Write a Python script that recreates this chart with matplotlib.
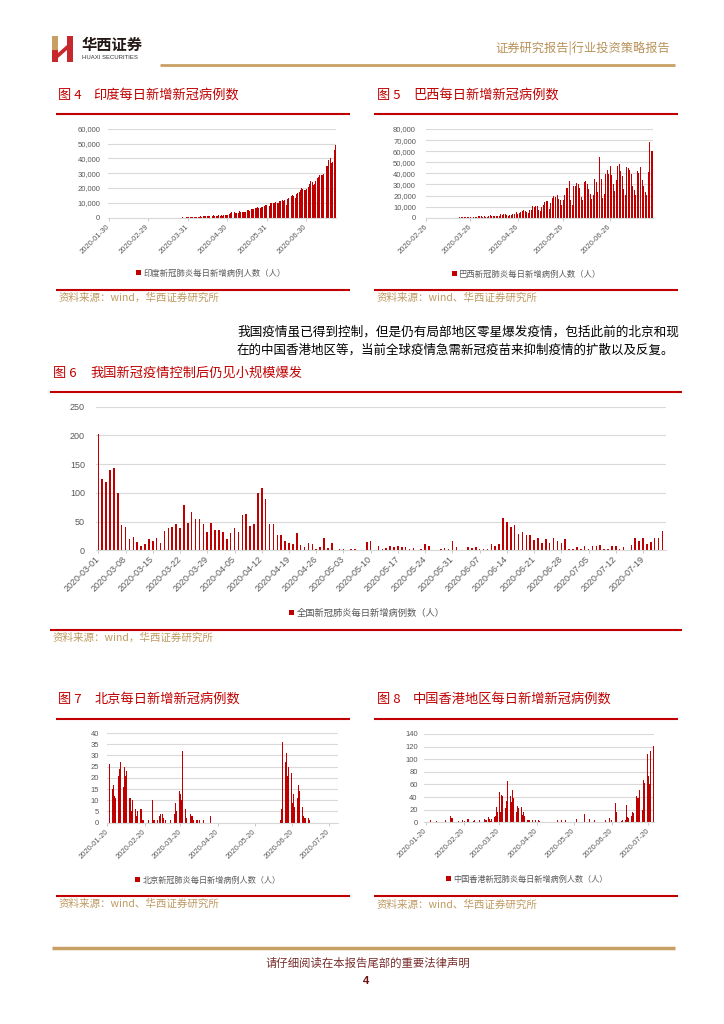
import matplotlib
matplotlib.use('Agg')
import matplotlib.pyplot as plt
import numpy as np
import pandas as pd
from matplotlib.patches import Rectangle, Polygon
from matplotlib.lines import Line2D

# ---------------- data ----------------
india_start = '2020-01-30'
india_ticks = ['2020-01-30', '2020-02-29', '2020-03-31', '2020-04-30', '2020-05-31', '2020-06-30']
india_values = [
    1, 0,
    0, 1, 1, 0, 0, 0, 0, 0, 0, 0, 0, 0, 0, 0, 0, 0, 0, 0, 0, 0, 0, 0, 0, 0, 0, 0, 0, 0, 0,
    0, 2, 1, 22, 1, 2, 3, 5, 9, 15, 8, 11, 9, 20, 14, 15, 12, 17, 22, 55, 80, 82, 104, 86, 70, 88, 161, 121, 106, 227, 146,
    601, 545, 500, 533, 572, 704, 508, 485, 591, 896, 768, 918, 905, 1463, 1035, 1034, 1007, 1294, 1340, 1556, 1233, 1386,
    1409, 1684, 1429, 1990, 1396, 1543, 1813, 1718,
    1993, 2564, 2952, 3656, 2971, 3602, 3344, 3339, 3175, 4311, 3592, 3562, 3726, 3941, 3787, 4864, 5050, 4630, 6147,
    5611, 6088, 6654, 6767, 6977, 6414, 6535, 7246, 7254, 8138, 8380, 8789,
    8392, 8171, 9633, 9851, 9887, 9971, 10408, 9983, 9987, 11458, 10956, 11929, 11502, 11929, 8800, 12881, 13586, 14516,
    14933, 15413, 14821, 13540, 15968, 16922, 17296, 18552, 19906, 19459, 18522, 18653,
    19148, 20903, 22771, 24850, 24248, 22252, 22752, 24879, 26506, 27114, 28637, 28701, 28498, 29429, 32695, 34956,
    34884, 38902, 40425, 37148, 37724, 45720, 49310,
]
india_yticks = [0, 10000, 20000, 30000, 40000, 50000, 60000]

brazil_start = '2020-02-26'
brazil_ticks = ['2020-02-26', '2020-03-26', '2020-04-26', '2020-05-26', '2020-06-26']
brazil_values = [
    1, 0, 0, 1,
    0, 0, 0, 1, 5, 5, 6, 6, 5, 9, 18, 25, 21, 23, 79, 34, 57, 137, 193, 283, 224, 418, 345, 310, 232, 482, 502, 487,
    352, 323, 1138,
    1119, 1208, 1012, 1304, 770, 1031, 1873, 2136, 1922, 1546, 1089, 1442, 1261, 1832, 3058, 2105, 3257, 2917, 2055,
    1927, 2498, 2678, 3735, 3503, 5514, 3379, 4613, 5385, 6276, 7218,
    6209, 4970, 4588, 6633, 6935, 10503, 9888, 10222, 10611, 6760, 5632, 9258, 11385, 13944, 15305, 14919, 7938, 13140,
    17408, 19951, 18508, 20803, 16508, 15813, 11687, 16324, 20599, 26417, 26928, 33274, 16409,
    11598, 28936, 28633, 30925, 30830, 27075, 18912, 15654, 32091, 32913, 30412, 25982, 21704, 17110, 20647, 34918,
    32188, 22765, 54771, 34666, 17459, 21432, 39436, 42725, 39483, 46860, 38693, 30476, 24052, 33846,
    46712, 48105, 42223, 37923, 26051, 20229, 45305, 44571, 42619, 39023, 28532, 24831, 20286, 41857, 39924, 45403,
    34177, 28532, 23529, 20257, 41008, 67860, 59961, 60500,
]
brazil_yticks = [0, 10000, 20000, 30000, 40000, 50000, 60000, 70000, 80000]

china_start = '2020-03-01'
china_ticks = ['2020-03-01', '2020-03-08', '2020-03-15', '2020-03-22', '2020-03-29', '2020-04-05', '2020-04-12',
               '2020-04-19', '2020-04-26', '2020-05-03', '2020-05-10', '2020-05-17', '2020-05-24', '2020-05-31',
               '2020-06-07', '2020-06-14', '2020-06-21', '2020-06-28', '2020-07-05', '2020-07-12', '2020-07-19']
china_values = [
    202, 125, 119, 139, 143, 99, 44, 40, 19, 24, 15, 8, 11, 20, 16, 21, 13, 34, 39, 41, 46, 39, 78, 47, 67, 55, 54,
    45, 31, 48, 36,
    35, 31, 19, 30, 39, 32, 62, 63, 42, 46, 99, 108, 89, 46, 46, 26, 27, 16, 12, 11, 30, 10, 6, 12, 11, 3, 6, 22, 4, 12,
    1, 2, 3, 1, 2, 2, 1, 1, 14, 17, 1, 7, 3, 4, 8, 5, 7, 6, 5, 2, 4, 0, 2, 11, 7, 1, 1, 2, 4, 2, 16,
    5, 1, 1, 5, 4, 6, 3, 3, 3, 11, 7, 11, 57, 49, 40, 44, 28, 31, 27, 26, 18, 22, 12, 19, 13, 21, 17, 12, 19, 3,
    3, 5, 3, 8, 3, 8, 7, 9, 3, 2, 7, 8, 3, 6, 1, 10, 22, 16, 22, 11, 14, 22, 21, 34,
]
china_yticks = [0, 50, 100, 150, 200, 250]

beijing_start = '2020-01-20'
month_ticks = ['2020-01-20', '2020-02-20', '2020-03-20', '2020-04-20', '2020-05-20', '2020-06-20', '2020-07-20']
beijing_values = [
    0, 0,
    26, 10, 15, 17, 12, 11, 20, 21, 24, 27, 29, 16, 25, 21, 23, 18, 11, 11, 5, 10, 14, 6, 3, 5, 1, 6, 6, 1, 1, 3,
    0, 0, 1, 0, 0, 10, 1, 1, 2, 1, 0, 3, 4, 4, 2, 0, 1, 6, 0, 0, 1, 0, 5, 4, 9, 5, 21, 14, 13, 10, 32, 5, 6, 2,
    0, 3, 4, 3, 3, 1, 1, 1, 1, 0, 1, 0, 0, 1, 0, 0, 0, 0, 0, 3,
    0, 0, 0, 0, 0, 0, 0, 0, 0, 0, 0, 0, 0, 0, 0, 0, 0, 0, 0, 0, 0, 0, 0, 0, 0, 0, 0, 0,
    0, 0, 0, 0, 0, 0, 0, 0, 0, 0, 0, 0, 0, 0, 0, 0, 0, 0, 0, 0, 0, 0, 0, 0, 0, 0, 0, 0,
    1, 6, 36, 36, 27, 31, 21, 25, 22, 22, 9, 13, 7, 13, 11, 17, 14, 7, 7, 3, 2, 2, 2, 2, 1, 0,
    0, 0, 0, 0, 0, 0, 0, 0, 0, 0, 0, 0, 0, 0, 0, 0, 0, 0,
]
beijing_yticks = [0, 5, 10, 15, 20, 25, 30, 35, 40]

hk_start = '2020-01-20'
hk_values = [
    0, 0, 1, 1, 3, 0, 3, 0, 0, 2, 0, 1, 0, 0, 0, 3, 3, 0, 0, 1,
    10, 7, 7, 0, 4, 0, 0, 2, 3, 0, 3, 0, 2, 0, 6, 6, 0, 4, 0, 2,
    3, 0, 3, 0, 3, 0, 3, 0, 5, 3, 3, 8, 6, 2, 6, 8, 9, 10, 24, 17,
    48, 17, 44, 41, 29, 23, 33, 65, 64, 41, 32, 51, 38, 43, 16, 26, 23, 24, 25, 12,
    16, 10, 5, 4, 3, 3, 2, 3, 1, 0, 3, 0, 3, 2, 0, 0, 1, 0, 0, 0,
    0, 0, 0, 1, 0, 0, 0, 0, 3, 0, 0, 3, 0, 0, 3, 0, 0, 0, 3, 0,
    0, 0, 7, 5, 0, 0, 0, 0, 0, 0, 13, 5, 0, 0, 6, 0, 5, 0, 3, 0,
    0, 0, 0, 0, 0, 0, 0, 3, 0, 0, 7, 0, 3, 0, 0, 30, 16, 0, 13, 0,
    2, 3, 0, 3, 28, 9, 7, 11, 10, 16, 14, 24, 42, 38, 38, 52, 48, 19, 67, 63,
    58, 108, 73, 61, 113, 117, 121,
]
hk_yticks = [0, 20, 40, 60, 80, 100, 120, 140]

india_legend = '印度新冠肺炎每日新增病例人数（人）'
brazil_legend = '巴西新冠肺炎每日新增病例人数（人）'
china_legend = '全国新冠肺炎每日新增病例数（人）'
beijing_legend = '北京新冠肺炎每日新增病例人数（人）'
hk_legend = '中国香港新冠肺炎每日新增病例人数（人）'

# ---------------- styles ----------------
W, H = 724, 1024
RED = '#C00000'
TITLE_RED = '#C00000'
GOLD = '#C9A063'
SRC = '#BF9A62'
GRAY = '#595959'
GRID = '#D9D9D9'
CJK = ['Noto Sans CJK SC', 'DejaVu Sans']
NUM = ['Liberation Sans', 'Noto Sans CJK SC']

fig = plt.figure(figsize=(7.24, 10.24), dpi=100)


def fx(x):
    return x / W


def fy(y):
    return 1 - y / H


def ftext(x, y, s, **kw):
    kw.setdefault('family', CJK)
    fig.text(fx(x), fy(y), s, **kw)


def hline(x0, x1, y, color, lw):
    fig.add_artist(Line2D([fx(x0), fx(x1)], [fy(y), fy(y)], color=color, lw=lw,
                          transform=fig.transFigure, solid_capstyle='butt'))


def chart(x0, y0, x1, y1, values, start, ticks, xlim, yticks, yfmt, tick_fs, yfs, ypad,
          bar_w, label, leg_xy, leg_fs):
    ax = fig.add_axes([fx(x0), fy(y1), (x1 - x0) / W, (y1 - y0) / H])
    x = np.arange(len(values))
    ax.bar(x, values, width=bar_w, color=RED, linewidth=0, label=label)
    ax.set_xlim(*xlim)
    ax.set_ylim(yticks[0], yticks[-1])
    ax.set_yticks(yticks)
    ax.set_yticklabels([yfmt(v) for v in yticks], fontsize=yfs, color=GRAY, family=NUM)
    s0 = pd.Timestamp(start)
    tpos = [(pd.Timestamp(t) - s0).days for t in ticks]
    ax.set_xticks(tpos)
    ax.set_xticklabels(ticks, rotation=45, ha='right', va='center', rotation_mode='anchor',
                       fontsize=tick_fs, color=GRAY, family=NUM)
    ax.yaxis.grid(True, color=GRID, lw=0.8)
    ax.set_axisbelow(True)
    for s in ax.spines.values():
        s.set_visible(False)
    ax.spines['bottom'].set_visible(True)
    ax.spines['bottom'].set_color(GRID)
    ax.spines['bottom'].set_linewidth(0.8)
    ax.tick_params(axis='y', length=0, pad=ypad)
    ax.tick_params(axis='x', length=2.5, width=0.6, color='#BFBFBF', pad=3)
    ax.patch.set_alpha(0)
    ax.legend(loc='center', bbox_to_anchor=(fx(leg_xy[0]), fy(leg_xy[1])),
              bbox_transform=fig.transFigure, frameon=False, handlelength=0.55,
              handleheight=0.55, handletextpad=0.3, borderpad=0,
              prop={'family': CJK, 'size': leg_fs}, labelcolor=GRAY)
    return ax


comma = lambda v: f'{int(v):,}'
plain = lambda v: f'{int(v)}'

# ---------------- header ----------------
fig.add_artist(Rectangle((fx(52), fy(50)), 6 / W, 14 / H, color='#C8A064', transform=fig.transFigure, lw=0))
fig.add_artist(Rectangle((fx(52), fy(62)), 6 / W, 12 / H, color='#C7282E', transform=fig.transFigure, lw=0))
fig.add_artist(Rectangle((fx(67), fy(62)), 6 / W, 26 / H, color='#C7282E', transform=fig.transFigure, lw=0))
fig.add_artist(Polygon([(fx(58), fy(53)), (fx(67), fy(45)), (fx(67), fy(50)), (fx(58), fy(58))],
                       closed=True, color='#C7282E', transform=fig.transFigure, lw=0))
ftext(82, 45, '华西证券', fontsize=11, weight='bold', color='#231815', va='center')
ftext(82, 57.5, 'HUAXI SECURITIES', fontsize=4.3, color='#333333', va='center', family=NUM)
ftext(670, 48, '证券研究报告|行业投资策略报告', fontsize=8.8, color='#B8925A', va='center', ha='right')
hline(160, 675, 65, GOLD, 2.0)

# ---------------- Fig 4 ----------------
ftext(58, 95, '图 4', fontsize=9.5, color=TITLE_RED, va='center')
ftext(93, 95, '印度每日新增新冠病例数', fontsize=9.5, color=TITLE_RED, va='center')
hline(56, 350, 114, TITLE_RED, 1.5)
chart(108, 128.7, 336, 217.7, india_values, india_start, india_ticks, (-0.5, 175.5), india_yticks, comma,
      5.5, 5.5, 5.5, 0.72, india_legend, (211, 273), 6)
hline(56, 350, 290, TITLE_RED, 1.5)
ftext(59, 298, '资料来源：wind，华西证券研究所', fontsize=7.6, color=SRC, va='center')

# ---------------- Fig 5 ----------------
ftext(377, 95, '图 5', fontsize=9.5, color=TITLE_RED, va='center')
ftext(413, 95, '巴西每日新增新冠病例数', fontsize=9.5, color=TITLE_RED, va='center')
hline(374, 678, 114, TITLE_RED, 1.5)
chart(425.7, 129, 653.4, 217.7, brazil_values, brazil_start, brazil_ticks, (-0.5, 149.5), brazil_yticks, comma,
      5.5, 5.5, 7, 0.65, brazil_legend, (527, 274), 6)
hline(374, 678, 290, TITLE_RED, 1.5)
ftext(377, 298, '资料来源：wind、华西证券研究所', fontsize=7.6, color=SRC, va='center')

# ---------------- body text ----------------
ftext(237, 332, '我国疫情虽已得到控制，但是仍有局部地区零星爆发疫情，包括此前的北京和现',
      fontsize=9.1, color='#000000', va='center')
ftext(237, 350, '在的中国香港地区等，当前全球疫情急需新冠疫苗来抑制疫情的扩散以及反复。',
      fontsize=9.0, color='#000000', va='center')

# ---------------- Fig 6 ----------------
ftext(53, 373, '图 6', fontsize=9.5, color=TITLE_RED, va='center')
ftext(90, 373, '我国新冠疫情控制后仍见小规模爆发', fontsize=9.5, color=TITLE_RED, va='center')
hline(50, 682, 392, TITLE_RED, 1.5)
chart(96, 406.7, 666, 550.3, china_values, china_start, china_ticks, (-0.6, 145.9), china_yticks, plain,
      6.5, 6.5, 8, 0.4, china_legend, (367, 613), 6.7)
hline(50, 682, 629.5, TITLE_RED, 1.5)
ftext(53, 638, '资料来源：wind，华西证券研究所', fontsize=7.6, color=SRC, va='center')

# ---------------- Fig 7 ----------------
ftext(58, 699, '图 7', fontsize=9.5, color=TITLE_RED, va='center')
ftext(95, 699, '北京每日新增新冠病例数', fontsize=9.5, color=TITLE_RED, va='center')
hline(56, 350, 719.3, TITLE_RED, 1.5)
chart(107.3, 733, 338, 822.7, beijing_values, beijing_start, month_ticks, (0, 189.4), beijing_yticks, plain,
      5.5, 5.5, 5.8, 0.65, beijing_legend, (208, 880), 5.9)
hline(56, 350, 896, TITLE_RED, 1.5)
ftext(59, 904, '资料来源：wind、华西证券研究所', fontsize=7.6, color=SRC, va='center')

# ---------------- Fig 8 ----------------
ftext(377, 699, '图 8', fontsize=9.5, color=TITLE_RED, va='center')
ftext(413, 699, '中国香港地区每日新增新冠病例数', fontsize=9.5, color=TITLE_RED, va='center')
hline(374, 678, 719.3, TITLE_RED, 1.5)
chart(424, 734, 654, 822.3, hk_values, hk_start, month_ticks, (-1.4, 186.6), hk_yticks, plain,
      5.5, 5.5, 4.5, 0.65, hk_legend, (527, 879), 5.9)
hline(374, 678, 896, TITLE_RED, 1.5)
ftext(377, 905, '资料来源：wind、华西证券研究所', fontsize=7.6, color=SRC, va='center')

# ---------------- footer ----------------
hline(52, 675, 948, GOLD, 2.5)
ftext(368, 963, '请仔细阅读在本报告尾部的重要法律声明', fontsize=8.2, color='#7A2E2E', va='center', ha='center')
ftext(366, 981, '4', fontsize=8, color='#6B0F0F', va='center', ha='center', weight='bold', family=NUM)

fig.savefig('out.png', dpi=100)
